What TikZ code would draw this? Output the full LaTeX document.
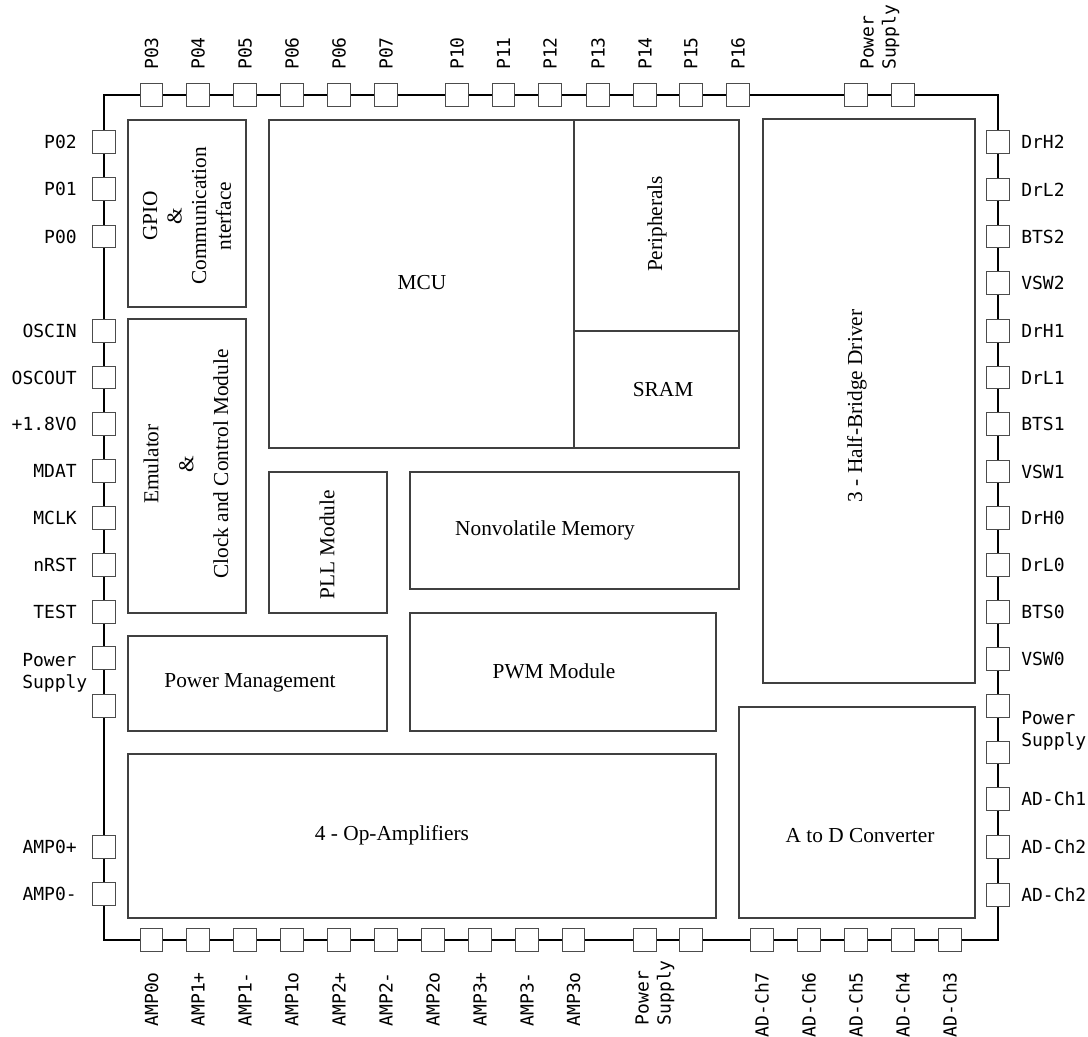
\documentclass[tikz,border=0pt]{standalone}
\usepackage{fontspec}
\setmainfont{Liberation Serif}
\setmonofont{DejaVu Sans Mono}

\begin{document}
\begin{tikzpicture}[x=0.75pt,y=-0.75pt,
    block/.style={draw=black!75,line width=0.9pt},
    blocktext/.style={font=\fontsize{16}{18.4}\selectfont,inner sep=0pt,align=center},
    pad/.style={draw=black!70,fill=white,line width=0.9pt,minimum size=17pt,inner sep=0pt},
    pin/.style={font=\ttfamily\fontsize{13.5}{16.5}\selectfont,inner sep=0pt}]
\useasboundingbox (0,0) rectangle (1088,1037);

% package outline
\draw[line width=1.6pt] (104,95) rectangle (998,940);

% functional blocks
\begin{scope}[every path/.style={block}]
    \draw (128,120) rectangle (246,307);
    \draw (128,319) rectangle (246,613);
    \draw (269,120) rectangle (574,448);
    \draw (574,120) rectangle (739,331);
    \draw (574,331) rectangle (739,448);
    \draw (763,119) rectangle (975,683);
    \draw (269,472) rectangle (387,613);
    \draw (410,472) rectangle (739,589);
    \draw (410,613) rectangle (716,731);
    \draw (128,636) rectangle (387,731);
    \draw (128,754) rectangle (716,918);
    \draw (739,707) rectangle (975,918);
\end{scope}
\begin{scope}[every node/.style={blocktext}]
    \node[rotate=90,font=\fontsize{16}{18.4}\selectfont] (gpio) at (187,216) {GPIO\\\&\\Communication\\nterface};
    \node[rotate=90,font=\fontsize{16}{26.2}\selectfont] (emu) at (186,464) {Emulator\\\&\\Clock and Control Module};
    \node (mcu) at (422,283) {MCU};
    \node[rotate=90] (periph) at (657,224) {Peripherals};
    \node (sram) at (663,390) {SRAM};
    \node[rotate=90] (hbridge) at (857,406) {3 - Half-Bridge Driver};
    \node[rotate=90] (pll) at (327,545) {PLL Module};
    \node (nvm) at (545,530) {Nonvolatile Memory};
    \node (pwm) at (554,671) {PWM Module};
    \node (pwr) at (250,683) {Power Management};
    \node (opamp) at (392,835) {4 - Op-Amplifiers};
    \node (adc) at (860,836) {A to D Converter};
\end{scope}

% top pins
\foreach \x/\txt [count=\i] in {151.5/P03,198/P04,245/P05,292/P06,339/P06,386/P07,
        457/P10,503.5/P11,550/P12,598/P13,645/P14,691/P15,738/P16} {
    \node[pad] (T\i) at (\x,95) {};
    \node[pin,rotate=90,anchor=west] (Tl\i) at (\x,70) {\txt};
}
\node[pad] (Tp1) at (856,95) {};
\node[pad] (Tp2) at (903,95) {};
\node[pin,rotate=90,anchor=west,align=left] (Tpl) at (880,70) {Power\\Supply};

% bottom pins
\foreach \x/\txt [count=\i] in {151.5/AMP0o,198/AMP1+,245/AMP1-,292/AMP1o,339/AMP2+,386/AMP2-,
        433/AMP2o,480/AMP3+,527/AMP3-,573.5/AMP3o,
        762/AD-Ch7,809/AD-Ch6,856/AD-Ch5,903/AD-Ch4,950/AD-Ch3} {
    \node[pad] (B\i) at (\x,940) {};
    \node[pin,rotate=90,anchor=east] (Bl\i) at (\x,972) {\txt};
}
\node[pad] (Bp1) at (645,940) {};
\node[pad] (Bp2) at (691,940) {};
\node[pin,rotate=90,anchor=east,align=left] (Bpl) at (655,960) {Power\\Supply};

% left pins
\foreach \y/\txt [count=\i] in {142/P02,189/P01,236.5/P00,331/OSCIN,377.5/OSCOUT,424/+1.8VO,
        471/MDAT,518/MCLK,565/nRST,612/TEST,847/AMP0+,894/AMP0-} {
    \node[pad] (L\i) at (104,\y) {};
    \node[pin,anchor=east] (Ll\i) at (77,\y) {\txt};
}
\node[pad] (Lp1) at (104,658) {};
\node[pad] (Lp2) at (104,706) {};
\node[pin,anchor=west,align=left] (Lpl) at (22,673) {Power\\Supply};

% right pins
\foreach \y/\txt [count=\i] in {142/DrH2,189.5/DrL2,236.5/BTS2,283/VSW2,331/DrH1,377.5/DrL1,
        424/BTS1,471.5/VSW1,518/DrH0,565/DrL0,612/BTS0,659/VSW0,
        799/AD-Ch1,847/AD-Ch2,895/AD-Ch2} {
    \node[pad] (R\i) at (998,\y) {};
    \node[pin,anchor=west] (Rl\i) at (1021,\y) {\txt};
}
\node[pad] (Rp1) at (998,706) {};
\node[pad] (Rp2) at (998,752.5) {};
\node[pin,anchor=west,align=left] (Rpl) at (1021,731) {Power\\Supply};
\end{tikzpicture}
\end{document}
